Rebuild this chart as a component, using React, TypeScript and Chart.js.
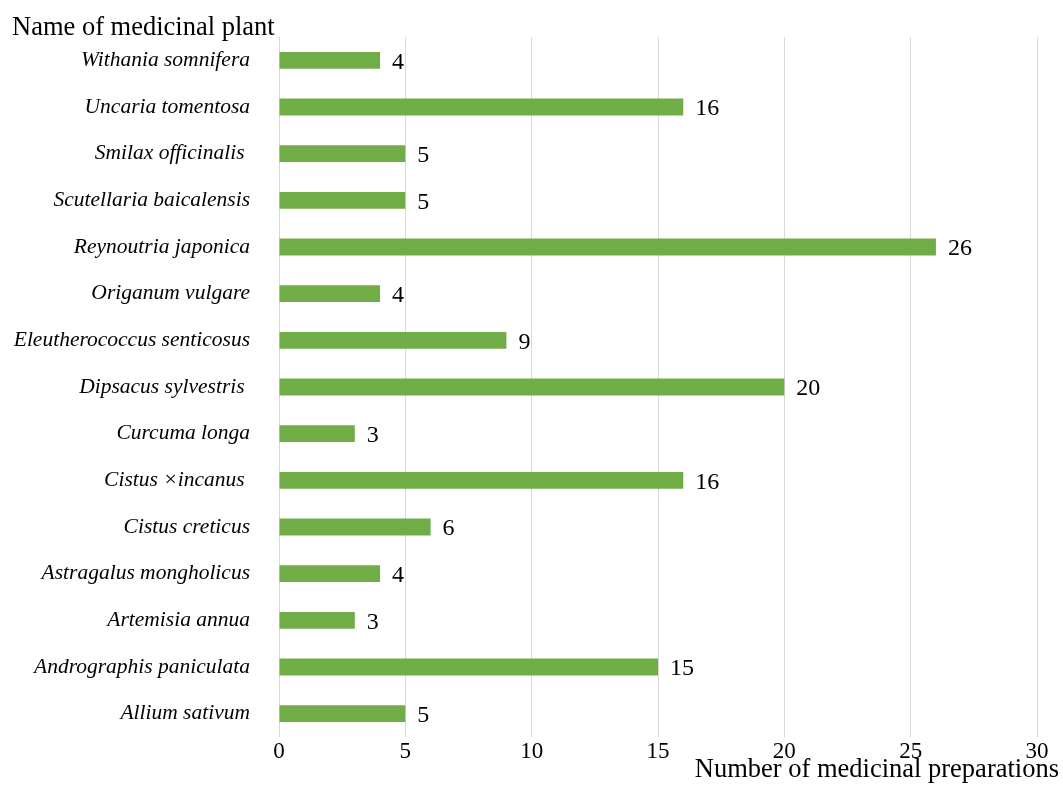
import React, { useEffect, useRef } from "react";
import { Chart, registerables } from "chart.js";

Chart.register(...registerables);

const categories = [
  "Withania somnifera",
  "Uncaria tomentosa",
  "Smilax officinalis ",
  "Scutellaria baicalensis",
  "Reynoutria japonica",
  "Origanum vulgare",
  "Eleutherococcus senticosus",
  "Dipsacus sylvestris ",
  "Curcuma longa",
  "Cistus ×incanus ",
  "Cistus creticus",
  "Astragalus mongholicus",
  "Artemisia annua",
  "Andrographis paniculata",
  "Allium sativum",
];
const values = [4, 16, 5, 5, 26, 4, 9, 20, 3, 16, 6, 4, 3, 15, 5];
const xMin = 0;
const xMax = 30;
const xStep = 5;
const yTitle = "Name of medicinal plant";
const xTitle = "Number of medicinal preparations";

const SERIF = '"Liberation Serif", "Times New Roman", serif';

const valueLabels = {
  id: "valueLabels",
  afterDatasetsDraw(chart: any) {
    const ctx = chart.ctx;
    const meta = chart.getDatasetMeta(0);
    ctx.save();
    ctx.font = `24px ${SERIF}`;
    ctx.fillStyle = "#000";
    ctx.textAlign = "left";
    ctx.textBaseline = "middle";
    meta.data.forEach((bar: any, i: number) => {
      ctx.fillText(String(values[i]), bar.x + 12, bar.y + 2);
    });
    ctx.restore();
  },
};

const axisTitles = {
  id: "axisTitles",
  afterDraw(chart: any) {
    const { ctx, chartArea } = chart;
    ctx.save();
    ctx.font = `26.5px ${SERIF}`;
    ctx.fillStyle = "#000";
    ctx.textBaseline = "alphabetic";
    ctx.textAlign = "left";
    ctx.fillText(yTitle, 12, chartArea.top - 2);
    ctx.textAlign = "right";
    ctx.fillText(xTitle, chartArea.right + 22, chartArea.bottom + 40);
    ctx.restore();
  },
};

export default function App() {
  const ref = useRef<HTMLCanvasElement | null>(null);

  useEffect(() => {
    if (!ref.current) return;
    const chart = new Chart(ref.current, {
      type: "bar",
      data: {
        labels: categories,
        datasets: [
          {
            data: values,
            backgroundColor: "#70AD47",
            borderWidth: 0,
            categoryPercentage: 1,
            barPercentage: 0.36,
          },
        ],
      },
      options: {
        indexAxis: "y",
        responsive: false,
        animation: false,
        layout: { padding: { top: 37, right: 26, bottom: 0, left: 0 } },
        plugins: {
          legend: { display: false },
          tooltip: { enabled: false },
          title: { display: false },
        },
        scales: {
          x: {
            min: xMin,
            max: xMax,
            ticks: {
              stepSize: xStep,
              color: "#000",
              padding: 1,
              font: { family: SERIF, size: 23 },
            },
            grid: { color: "#d9d9d9", lineWidth: 1, drawTicks: false },
            border: { display: false },
            afterFit(scale: any) {
              scale.height = 53;
            },
          },
          y: {
            ticks: {
              color: "#000",
              padding: 29,
              font: { family: SERIF, size: 21.5, style: "italic" },
            },
            grid: { display: false, drawTicks: false },
            border: { display: false },
            afterFit(scale: any) {
              scale.width = 279;
              scale.paddingTop = 0;
              scale.paddingBottom = 0;
            },
          },
        },
      },
      plugins: [valueLabels, axisTitles],
    });
    return () => chart.destroy();
  }, []);

  return (
    <div style={{ position: "absolute", left: 0, top: 0, width: 1063, height: 790, background: "#fff" }}>
      <canvas ref={ref} width={1063} height={790} style={{ display: "block" }} />
    </div>
  );
}
